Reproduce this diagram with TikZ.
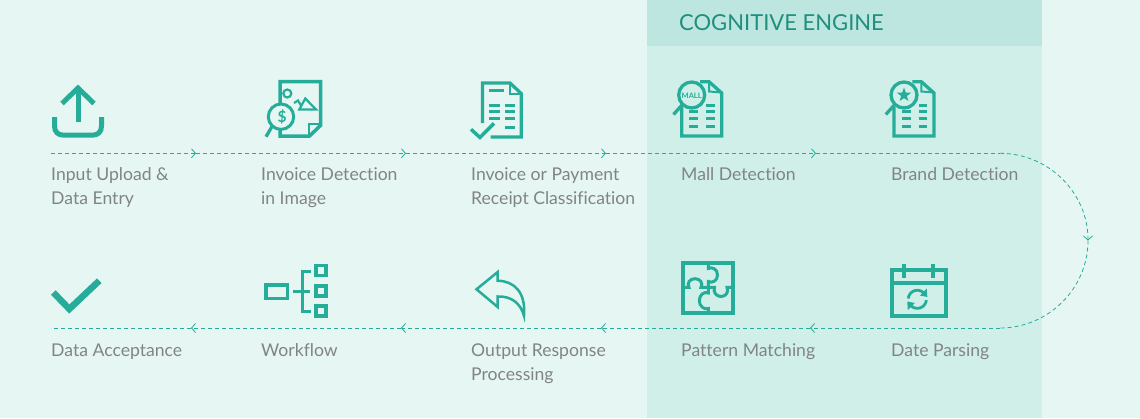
\documentclass[tikz,border=0pt]{standalone}
\usepackage{fontspec}
\setmainfont{Lato}[Ligatures=NoCommon]
\usetikzlibrary{arrows.meta}
\definecolor{pagebg}{HTML}{E6F6F3}
\definecolor{panelbg}{HTML}{D0EFE9}
\definecolor{headbg}{HTML}{BDE6E0}
\definecolor{teal}{HTML}{26AD99}
\definecolor{titlecol}{HTML}{1F8F7E}
\definecolor{labelcol}{HTML}{808583}
\tikzset{
  icon/.style={draw=teal,line width=3pt,miter limit=8},
  rowline/.style={draw=teal,line width=3pt},
  flowbase/.style={draw=teal,line width=0.8pt,dash pattern=on 4pt off 3pt},
  flowline/.style={flowbase,-{Straight Barb[length=4pt,width=9pt,line width=0.8pt]}},
  label/.style={anchor=north west,inner sep=0pt,align=left,text=labelcol,font=\fontsize{17.6}{24}\selectfont},
}
\newcommand{\lensdoc}[1]{%
  \begin{scope}[shift={(#1,0)}]
    \draw[icon,line width=3.3pt] (681.7,107) -- (681.7,136) -- (721.7,136) -- (721.7,93) -- (709,81.7) -- (700,81.7);
    \draw[icon,line width=2pt] (709,81.7) -- (709,91.5) -- (721.7,92.5);
    \draw[icon,line width=3.3pt] (691.7,95) circle[radius=13pt];
    \draw[icon,line width=3.3pt] (682,105) -- (673.5,114.5);
    \foreach \ry in {111.7,118.3,126.7}{\draw[rowline] (689.3,\ry) -- (698.3,\ry);}
    \foreach \ry in {105,111.7,118.3,126.7}{\draw[rowline] (706.3,\ry) -- (715,\ry);}
  \end{scope}}
\begin{document}
\begin{tikzpicture}[x=1pt,y=-1pt]
\useasboundingbox (0,0) rectangle (1140,418);
\fill[pagebg] (0,0) rectangle (1140,418);
\fill[panelbg] (647,0) rectangle (1042,418);
\fill[headbg] (647,0) rectangle (1042,46);
\node[anchor=west,inner sep=0pt,text=titlecol,font=\fontsize{22}{26}\selectfont] (title) at (679,23) {COGNITIVE ENGINE};

% labels
\node[label] (l1) at (51,167.5) {Input Upload \&\\Data Entry};
\node[label] (l2) at (261,167.5) {Invoice Detection\\in Image};
\node[label] (l3) at (471,167.5) {Invoice or Payment\\Receipt Classification};
\node[label] (l4) at (681,167.5) {Mall Detection};
\node[label] (l5) at (891,167.5) {Brand Detection};
\node[label] (l6) at (891,343.5) {Date Parsing};
\node[label] (l7) at (681,343.5) {Pattern Matching};
\node[label] (l8) at (471,343.5) {Output Response\\Processing};
\node[label] (l9) at (261,343.5) {Workflow};
\node[label] (l10) at (51,343.5) {Data Acceptance};

% flow
\coordinate (t0) at (51,153.3);
\coordinate (t1) at (196,153.3);
\coordinate (t2) at (406,153.3);
\coordinate (t3) at (606,153.3);
\coordinate (t4) at (816,153.3);
\coordinate (t5) at (1000,153.3);
\coordinate (r) at (1088,240.5);
\coordinate (b5) at (1000,328);
\coordinate (b4) at (810,328);
\coordinate (b3) at (601,328);
\coordinate (b2) at (401,328);
\coordinate (b1) at (191,328);
\coordinate (b0) at (51,328);
\draw[flowline] (t0) -- (t1);
\draw[flowline] (t1) -- (t2);
\draw[flowline] (t2) -- (t3);
\draw[flowline] (t3) -- (t4);
\draw[flowbase] (t4) -- (t5);
\draw[flowline] (t5) .. controls (1048.3,153.3) and (1088,192.5) .. (r);
\draw[flowbase] (r) .. controls (1088,288.5) and (1048.3,328) .. (b5);
\draw[flowline] (b5) -- (b4);
\draw[flowline] (b4) -- (b3);
\draw[flowline] (b3) -- (b2);
\draw[flowline] (b2) -- (b1);
\draw[flowbase] (b1) -- (b0);

% upload
\draw[icon,line width=5pt] (78,122) -- (78,90);
\draw[icon,line width=5pt] (62,103.5) -- (78,88) -- (94,103.5);
\draw[icon,line width=5pt] (54.5,117) -- (54.5,126) .. controls (54.5,132) and (58,135.2) .. (64,135.2) -- (92,135.2) .. controls (98,135.2) and (101.5,132) .. (101.5,126) -- (101.5,117);

% invoice detection
\draw[icon,line width=3.5pt] (280,103) -- (280,81.7) -- (320.5,81.7) -- (320.5,125.5) -- (309.5,136) -- (280,136) -- (280,130);
\draw[icon,line width=2pt] (308.5,136) -- (308.5,124) -- (320.5,124);
\draw[icon] (281,116.7) circle[radius=12.7pt];
\draw[icon,line width=3.3pt] (272,126.5) -- (266,136.7);
\draw[icon,line width=2.2pt] (287.3,93.5) circle[radius=4pt];
\draw[icon,line width=2.2pt] (299.3,109.5) -- (305.3,98.5) -- (316,109.5) -- cycle;
\draw[icon,line width=2.2pt] (294,103) -- (298,100.5) -- (301,105.5);
\node[inner sep=0pt,text=teal,font=\fontsize{15.5}{15}\bfseries\selectfont] (dollar) at (282,117) {\$};

% classification
\draw[icon,line width=3.3pt] (482.5,123) -- (482.5,83) -- (510,83) -- (521.2,93.5) -- (521.2,137) -- (490.7,137);
\draw[icon,line width=2pt] (510,83) -- (510,93.5) -- (521.2,93.5);
\draw[rowline] (489.3,90) -- (504,90);
\foreach \ry in {105,111.7,118.3}{\draw[rowline] (489.3,\ry) -- (500,\ry);}
\foreach \ry in {105,111.7,118.3,127.7}{\draw[rowline] (505,\ry) -- (515,\ry);}
\draw[icon,line width=3.5pt] (471,129.3) -- (480,137.5) -- (494,123.3);

% mall + brand
\lensdoc{0}
\node[inner sep=0pt,text=teal,font=\fontsize{7.5}{8}\bfseries\selectfont] (mall) at (691.7,95.3) {MALL};
\lensdoc{212.3}
\fill[teal] (904,87.5)
  -- (905.8,92.5) -- (911.1,92.7) -- (906.9,96) -- (908.4,101)
  -- (904,98.1) -- (899.6,101) -- (901.1,96) -- (896.9,92.7) -- (902.2,92.5) -- cycle;

% check
\draw[icon,line width=6.5pt] (53.3,292.5) -- (69.3,309) -- (99.3,280.7);

% workflow
\draw[icon,line width=3.4pt] (266,285) rectangle (287.6,298.3);
\draw[icon] (293.3,291) -- (310,291);
\draw[icon] (311,271) -- (302,271) -- (302,311) -- (311,311);
\draw[icon,line width=3.4pt] (316,265.7) rectangle (326,275.6);
\draw[icon,line width=3.4pt] (316,286) rectangle (326,296);
\draw[icon,line width=3.4pt] (316,306) rectangle (326,316);

% reply
\draw[icon,line width=2.5pt,line join=miter] (476.5,289.3) -- (497.7,272) -- (497.7,280.7)
  .. controls (514,281) and (526,292) .. (524,316)
  .. controls (521,304) and (512,296) .. (497.7,296.5)
  -- (497.7,307) -- cycle;

% puzzle
\draw[icon,line width=4pt] (683,263) rectangle (733,313);
\draw[icon,line width=3pt] (708.3,263) -- (708.3,268.5) .. controls (712,266.5) and (717.5,269) .. (717.5,275) .. controls (717.5,281) and (712,283.5) .. (708.3,281.5) -- (708.3,293)
  .. controls (704,291) and (699.3,295) .. (699.3,300.7) .. controls (699.3,306) and (704,310) .. (708.3,308.5) -- (708.3,313);
\draw[icon,line width=3pt] (683,287.3) -- (689,287.3) .. controls (686.5,283) and (690,278.7) .. (695,278.7) .. controls (700,278.7) and (703.5,283) .. (701,287.3) -- (714.5,287.3)
  .. controls (713,292) and (716,296.5) .. (721,296.5) .. controls (726,296.5) and (729,292) .. (727,287.3) -- (733,287.3);

% calendar
\draw[icon,line width=4pt] (892,270.3) rectangle (945.7,315.7);
\fill[teal] (892,280.7) rectangle (945.7,285);
\draw[icon,line width=4pt] (904.3,264) -- (904.3,278.3);
\draw[icon,line width=4pt] (933.3,264) -- (933.3,278.3);
\draw[icon,line width=2.8pt] plot[domain=185:315,samples=30] ({917.3+9*cos(\x)},{299.3+9*sin(\x)});
\draw[icon,line width=2.8pt] plot[domain=5:135,samples=30] ({917.3+9*cos(\x)},{299.3+9*sin(\x)});
\fill[teal] (926.8,288.5) -- (927.3,297) -- (919.8,295.5) -- cycle;
\fill[teal] (907.8,310) -- (907.3,301.5) -- (914.8,303) -- cycle;
\end{tikzpicture}
\end{document}
